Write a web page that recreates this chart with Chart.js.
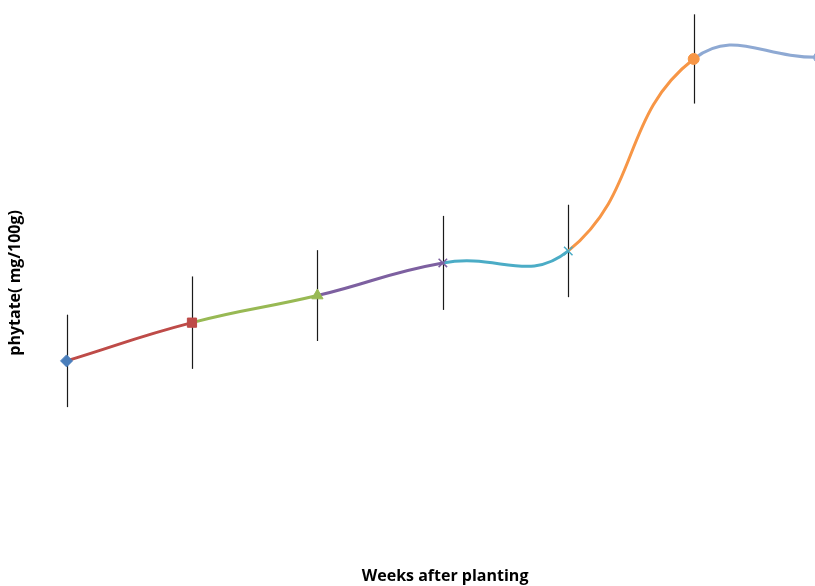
<!DOCTYPE html>
<html>
<head>
<meta charset="utf-8">
<script src="https://cdn.jsdelivr.net/npm/chart.js@4.4.1/dist/chart.umd.min.js"></script>
<style>
  html, body { margin: 0; padding: 0; background: #fff; overflow: hidden; }
  #wrap { width: 860px; height: 586px; }
</style>
</head>
<body>
<div id="wrap"><canvas id="myChart"></canvas></div>
<script>
// weeks (hidden axis), phytate values and error sizes
const weeks = [0, 1, 2, 3, 4, 5, 6];
const phytate = [247, 295, 329, 370, 385, 626, 628];
const errors = [58, 58, 57, 59, 58, 56, 56];

// Excel-like colours per point and per segment
const pointColors = ['#4A7EBB', '#BE4B48', '#98B954', '#7D60A0', '#4BACC6', '#F79646', '#8EA9D3'];
const segColors = ['#BE4B48', '#98B954', '#7D60A0', '#4BACC6', '#F79646', '#8EA9D3'];
const pointStyles = ['rectRot', 'rect', 'triangle', 'crossRot', 'crossRot', 'circle', 'circle'];
const pointSizes = [6, 6.5, 6.5, 6, 6, 5.5, 5.5];

// vertical error bars, drawn through the scales
const errorBars = {
  id: 'errorBars',
  beforeDatasetsDraw(chart) {
    const ctx = chart.ctx;
    const xs = chart.scales.x, ys = chart.scales.y;
    ctx.save();
    ctx.strokeStyle = '#1a1a1a';
    ctx.lineWidth = 1.2;
    weeks.forEach((w, i) => {
      const x = Math.round(xs.getPixelForValue(w)) + 0.5;
      ctx.beginPath();
      ctx.moveTo(x, ys.getPixelForValue(phytate[i] + errors[i]));
      ctx.lineTo(x, ys.getPixelForValue(phytate[i] - errors[i]));
      ctx.stroke();
    });
    ctx.restore();
  }
};

const data = weeks.map((w, i) => ({x: w, y: phytate[i]}));

new Chart(document.getElementById('myChart'), {
  type: 'line',
  data: {
    datasets: [{
      data,
      borderWidth: 3,
      tension: 0.45,
      fill: false,
      segment: { borderColor: ctx => segColors[ctx.p0DataIndex] },
      pointStyle: pointStyles,
      pointRadius: pointSizes,
      pointBackgroundColor: pointColors,
      pointBorderColor: pointColors,
      pointBorderWidth: [1, 1, 1, 1.5, 1.5, 1, 1],
      pointHoverRadius: pointSizes
    }]
  },
  options: {
    responsive: true,
    maintainAspectRatio: false,
    animation: false,
    layout: { padding: { left: 4, top: 0, right: 0, bottom: 0 } },
    plugins: {
      legend: { display: false },
      tooltip: { enabled: false }
    },
    scales: {
      x: {
        type: 'linear',
        min: -0.234,
        max: 6.27,
        ticks: { display: false },
        grid: { display: false },
        border: { display: false },
        title: {
          display: true,
          text: 'Weeks after planting',
          color: '#000',
          font: { family: 'Open Sans', size: 16, weight: 'bold' },
          padding: { top: 0, bottom: 0 }
        }
      },
      y: {
        min: -1.4,
        max: 691.2,
        ticks: { display: false },
        grid: { display: false },
        border: { display: false },
        title: {
          display: true,
          text: 'phytate( mg/100g)',
          color: '#000',
          font: { family: 'Open Sans', size: 16, weight: 'bold' },
          padding: { top: 2, bottom: 4 }
        }
      }
    }
  },
  plugins: [errorBars]
});
</script>
</body>
</html>
